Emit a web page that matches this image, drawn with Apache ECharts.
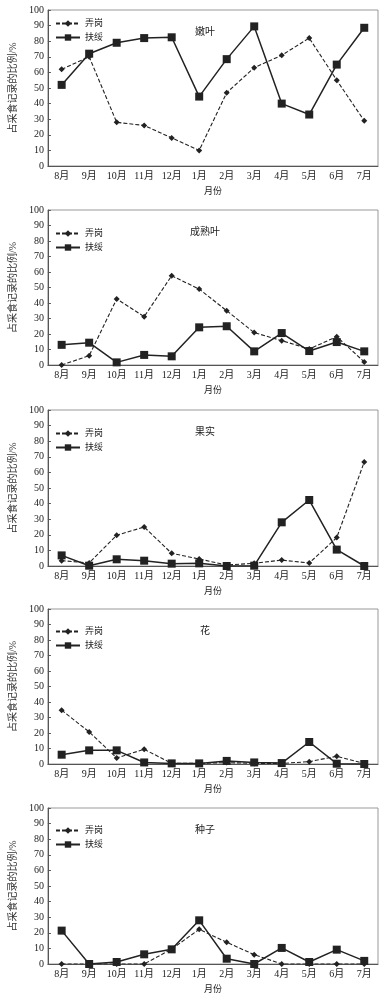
<!DOCTYPE html>
<html><head><meta charset="utf-8">
<script src="https://cdn.jsdelivr.net/npm/echarts@6/dist/echarts.min.js"></script>
<style>html,body{margin:0;padding:0;background:#fff}#c{width:391px;height:995px}</style>
</head><body><div id="c"></div>
<script>
var months = ['8月','9月','10月','11月','12月','1月','2月','3月','4月','5月','6月','7月'];
var yTicks = [0,10,20,30,40,50,60,70,80,90,100];
var panelTitles = ['嫩叶','成熟叶','果实','花','种子'];
var seriesNames = ['弄岗','扶绥'];
var nongang_nenye   = [62,70,28,26,18,10,47,63,71,82,55,29];
var fusui_nenye     = [52,72,79,82,82.5,44.5,68.5,89.5,40,33,65,88.6];
var nongang_chengshu= [0,6,42.6,31.2,57.6,49,35,20.9,15.7,10.3,18.3,2];
var fusui_chengshu  = [13,14.4,1.7,6.5,5.6,24.3,25,8.8,20.6,9,14.8,8.8];
var nongang_guoshi  = [3.4,2,19.7,25,8.1,4.5,0.6,1.7,3.8,1.9,18.2,66.7];
var fusui_guoshi    = [6.8,0.2,4.3,3.4,1.5,1.7,0,0.2,28,42.3,10.5,0];
var nongang_hua     = [34.7,20.7,3.9,9.5,0.4,0.4,0.9,0.4,0.4,1.5,5,0.4];
var fusui_hua       = [6,8.8,8.8,1,0.4,0.4,2,1,0.6,14.2,0.2,0];
var nongang_zhongzi = [0,0,0,0,9.6,22.2,13.9,6,0,0,0,0];
var fusui_zhongzi   = [21.4,0,1.3,6.2,9.4,28,3.4,0,10.3,1.3,9.2,2];

var nongangData = [nongang_nenye,nongang_chengshu,nongang_guoshi,nongang_hua,nongang_zhongzi];
var fusuiData = [fusui_nenye,fusui_chengshu,fusui_guoshi,fusui_hua,fusui_zhongzi];

var tops = [10,210,410,609,808];
var heights = [156,155,156,155,156];
var titleTops = [22,222,422,621,820];
var legendTops = [14,224,424,622,821];
var serif = '"Liberation Serif","Noto Sans CJK SC",serif';
var ink = '#222';

var grids=[],xAxes=[],yAxes=[],series=[],titles=[],legends=[];
for (var i=0;i<5;i++){
  grids.push({left:37,right:13,top:tops[i],height:heights[i],show:true,borderColor:'#999',borderWidth:1,backgroundColor:'transparent'});
  xAxes.push({type:'category',gridIndex:i,data:months,boundaryGap:true,
    name:'月份',nameLocation:'middle',nameGap:21,nameTextStyle:{fontFamily:serif,fontSize:9,color:ink},
    axisLine:{lineStyle:{color:'#555',width:1}},
    axisTick:{inside:true,length:3,lineStyle:{color:'#555'}},
    axisLabel:{fontFamily:serif,fontSize:10,color:ink,margin:5,interval:0},
    splitLine:{show:false}});
  yAxes.push({type:'value',gridIndex:i,min:yTicks[0],max:yTicks[yTicks.length-1],interval:10,
    name:'占采食记录的比例/%',nameLocation:'middle',nameGap:25,nameRotate:90,
    nameTextStyle:{fontFamily:serif,fontSize:10,color:'#333'},
    axisLine:{show:true,lineStyle:{color:'#555',width:1}},
    axisTick:{show:true,inside:true,length:3,lineStyle:{color:'#555'}},
    axisLabel:{fontFamily:serif,fontSize:10,color:ink,margin:4},
    splitLine:{show:false}});
  series.push({name:seriesNames[0],type:'line',xAxisIndex:i,yAxisIndex:i,data:nongangData[i],
    symbol:'diamond',symbolSize:6,lineStyle:{type:[4,2],width:1.1,color:ink},itemStyle:{color:ink},z:3});
  series.push({name:seriesNames[1],type:'line',xAxisIndex:i,yAxisIndex:i,data:fusuiData[i],
    symbol:'rect',symbolSize:8,lineStyle:{type:'solid',width:1.5,color:ink},itemStyle:{color:ink},z:2});
  titles.push({text:panelTitles[i],left:200,top:titleTops[i],textAlign:'center',
    textStyle:{fontFamily:serif,fontSize:10,fontWeight:'normal',color:ink}});
  legends.push({data:seriesNames,orient:'vertical',left:50,top:legendTops[i],itemWidth:24,itemHeight:8,itemGap:5,
    textStyle:{fontFamily:serif,fontSize:9,color:ink},selectedMode:false});
}
var chart = echarts.init(document.getElementById('c'),null,{renderer:'canvas'});
chart.setOption({animation:false,backgroundColor:'#fff',title:titles,legend:legends,grid:grids,xAxis:xAxes,yAxis:yAxes,series:series});
</script></body></html>
